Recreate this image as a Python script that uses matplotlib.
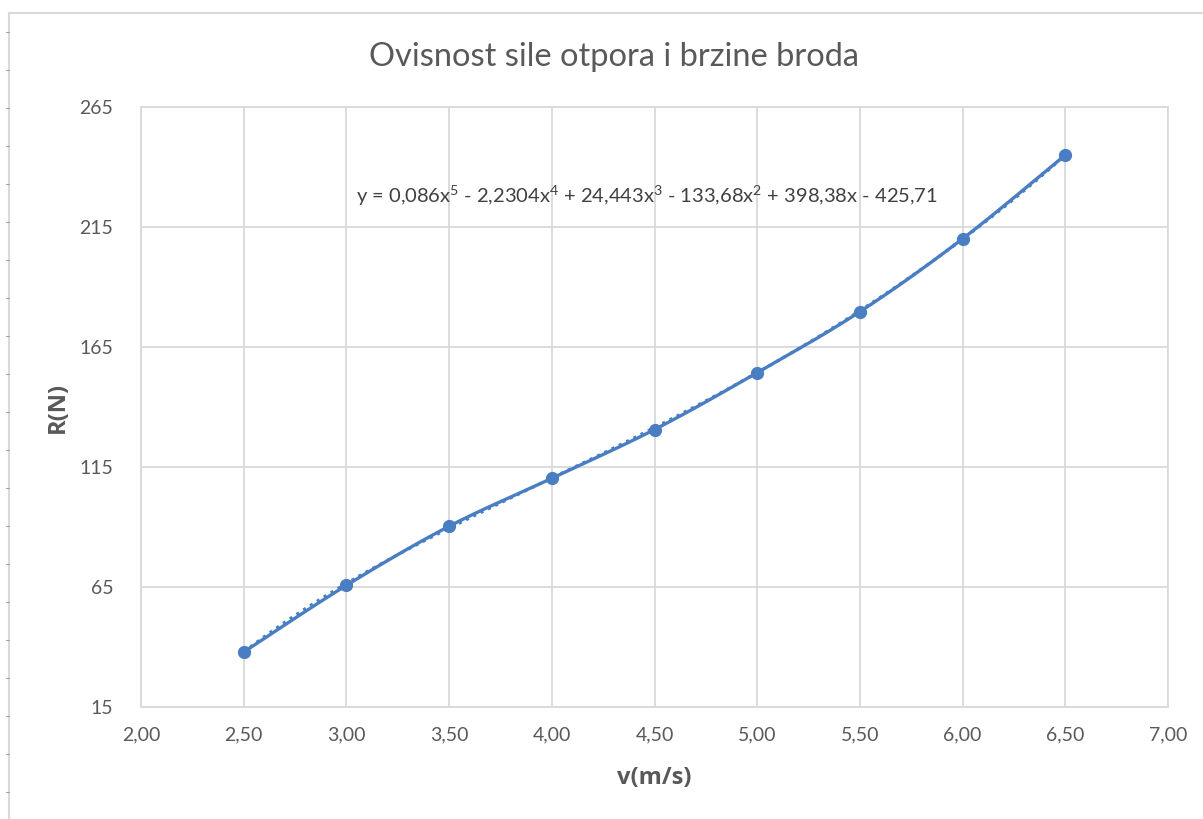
import matplotlib.pyplot as plt
import numpy as np
from matplotlib.lines import Line2D
from matplotlib.ticker import FuncFormatter, MultipleLocator

# Measured points: speed v (m/s) and resistance force R (N)
brzina = [2.5, 3.0, 3.5, 4.0, 4.5, 5.0, 5.5, 6.0, 6.5]
otpor = [37.9, 65.7, 90.3, 110.3, 130.6, 154.3, 179.7, 210.1, 245.0]

# Polynomial trendline coefficients, as printed on the chart (highest power first)
trend_coef = [0.086, -2.2304, 24.443, -133.68, 398.38, -425.71]
trend_label = "y = 0,086x$^5$ - 2,2304x$^4$ + 24,443x$^3$ - 133,68x$^2$ + 398,38x - 425,71"
y_ticks = [15, 65, 115, 165, 215, 265]

BLUE = '#4A7EC2'
GRID = '#D9D9D9'
TEXT = '#595959'

plt.rcParams['font.family'] = ['Lato', 'DejaVu Sans']
plt.rcParams['mathtext.fontset'] = 'custom'
plt.rcParams['mathtext.rm'] = 'Lato'


def smooth_line(x, y, n=30):
    """Excel-like smoothed line: Catmull-Rom style Bezier through the points."""
    x = np.asarray(x, float)
    y = np.asarray(y, float)
    pts = np.column_stack([x, y])
    out = []
    for i in range(len(pts) - 1):
        p0 = pts[max(i - 1, 0)]
        p1 = pts[i]
        p2 = pts[i + 1]
        p3 = pts[min(i + 2, len(pts) - 1)]
        c1 = p1 + (p2 - p0) / 6
        c2 = p2 - (p3 - p1) / 6
        t = np.linspace(0, 1, n)[:, None]
        seg = ((1 - t) ** 3) * p1 + 3 * ((1 - t) ** 2) * t * c1 + 3 * (1 - t) * t ** 2 * c2 + t ** 3 * p2
        out.append(seg if i == 0 else seg[1:])
    seg = np.vstack(out)
    return seg[:, 0], seg[:, 1]


fig = plt.figure(figsize=(12.03, 8.19), dpi=100)
ax = fig.add_axes([141 / 1203, 1 - 707 / 819, (1168 - 141) / 1203, (707 - 107) / 819])

# outer chart border (cropped screenshot: left and top edges only)
W, H = 1203, 819
fig.add_artist(Line2D([9 / W, 9 / W], [0, 1 - 13 / H], transform=fig.transFigure, color=GRID, lw=1.5))
fig.add_artist(Line2D([9 / W, 1], [1 - 13 / H, 1 - 13 / H], transform=fig.transFigure, color=GRID, lw=1.5))
for yy in np.arange(32, H, 38):
    fig.add_artist(Line2D([6 / W, 9 / W], [1 - yy / H, 1 - yy / H], transform=fig.transFigure,
                          color='#A6A6A6', lw=0.8))

# trendline (dotted) and smoothed series line
xt = np.linspace(min(brzina), max(brzina), 200)
ax.plot(xt, np.polyval(trend_coef, xt), ':', color=BLUE, lw=2.2, zorder=3)
xs, ys = smooth_line(brzina, otpor)
ax.plot(xs, ys, '-', color=BLUE, lw=2.4, zorder=4)
ax.plot(brzina, otpor, 'o', color=BLUE, ms=8.5, zorder=5)

ax.set_xlim(2.0, 7.0)
ax.set_ylim(15, 265)
ax.xaxis.set_major_locator(MultipleLocator(0.5))
ax.set_yticks(y_ticks)
ax.xaxis.set_major_formatter(FuncFormatter(lambda v, p: f"{v:.2f}".replace('.', ',')))
ax.yaxis.set_major_formatter(FuncFormatter(lambda v, p: f"{v:.0f}"))
ax.grid(True, color=GRID, lw=1.3)
ax.set_axisbelow(True)
for s in ax.spines.values():
    s.set_color(GRID)
    s.set_linewidth(1.3)
ax.tick_params(length=0, labelsize=14, colors=TEXT)
ax.tick_params(axis='x', pad=14)
ax.tick_params(axis='y', pad=20)

ax.set_xlabel('v(m/s)', fontsize=17, fontweight='bold', family=['Open Sans', 'DejaVu Sans'],
              color=TEXT, labelpad=16)
ax.set_ylabel('R(N)', fontsize=17, fontweight='bold', family=['Open Sans', 'DejaVu Sans'],
              color=TEXT, labelpad=7)
fig.text(614 / W, 1 - 57 / H, 'Ovisnost sile otpora i brzine broda', fontsize=23.5, color=TEXT,
         ha='center', va='center')
ax.text(647 / W, 1 - 196 / H, trend_label, transform=fig.transFigure, fontsize=14.5,
        color='#404040', ha='center', va='center')

fig.savefig('out.png', dpi=100)
